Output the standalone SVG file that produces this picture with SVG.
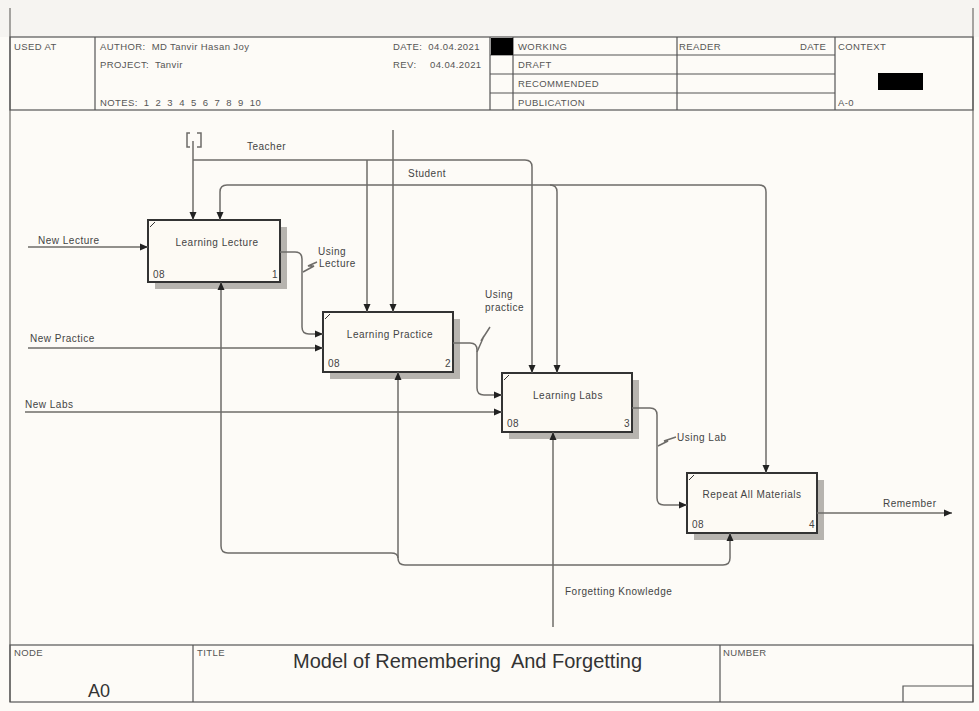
<svg xmlns="http://www.w3.org/2000/svg" width="979" height="711" viewBox="0 0 979 711">
<style>
.t{font-family:"Liberation Sans",Arial,sans-serif;font-size:9.5px;fill:#555;letter-spacing:0.4px;white-space:pre}
.d{font-family:"Liberation Sans",Arial,sans-serif;font-size:10px;fill:#444;letter-spacing:0.5px}
.frame{fill:none;stroke:#8a8884;stroke-width:1.5}
.cell{fill:none;stroke:#555;stroke-width:1.2}
.box{fill:#fdfaf4;stroke:#333;stroke-width:2}
.sh{fill:#b7b4af}
.c{fill:none;stroke:#6e6c69;stroke-width:1.5}
.ca{fill:none;stroke:#6e6c69;stroke-width:1.5;marker-end:url(#ah)}
</style>
<defs>
<marker id="ah" markerWidth="8" markerHeight="8" refX="8" refY="4" orient="auto" markerUnits="userSpaceOnUse">
<path d="M0,0.5 L8,4 L0,7.5 z" fill="#222"/>
</marker>
</defs>
<rect x="0" y="0" width="979" height="711" fill="#fdfbf7"/>
<rect x="0" y="0" width="979" height="37" fill="#f6f4f1"/>
<g id="frame">
<line class="frame" x1="10" y1="8" x2="10" y2="702"/>
<line class="frame" x1="973" y1="8" x2="973" y2="702"/>
</g>
<g id="header">
<rect class="cell" x="10" y="37" width="963" height="73"/>
<line class="cell" x1="95" y1="37" x2="95" y2="110"/>
<line class="cell" x1="490" y1="37" x2="490" y2="110"/>
<line class="cell" x1="513" y1="37" x2="513" y2="110"/>
<line class="cell" x1="677" y1="37" x2="677" y2="110"/>
<line class="cell" x1="835" y1="37" x2="835" y2="110"/>
<line class="cell" x1="490" y1="55" x2="835" y2="55"/>
<line class="cell" x1="490" y1="74" x2="835" y2="74"/>
<line class="cell" x1="490" y1="93" x2="835" y2="93"/>
<rect x="491" y="38" width="22" height="17" fill="#000"/>
<rect x="878" y="73" width="45" height="17" fill="#000"/>
<text class="t" x="14" y="50">USED AT</text>
<text class="t" x="100" y="50" xml:space="preserve">AUTHOR:  MD Tanvir Hasan Joy</text>
<text class="t" x="100" y="68" xml:space="preserve">PROJECT:  Tanvir</text>
<text class="t" x="100" y="106" xml:space="preserve">NOTES:  1  2  3  4  5  6  7  8  9  10</text>
<text class="t" x="393" y="50" xml:space="preserve">DATE:  04.04.2021</text>
<text class="t" x="393" y="68">REV:</text>
<text class="t" x="430" y="68">04.04.2021</text>
<text class="t" x="518" y="50">WORKING</text>
<text class="t" x="518" y="68">DRAFT</text>
<text class="t" x="518" y="87">RECOMMENDED</text>
<text class="t" x="518" y="106">PUBLICATION</text>
<text class="t" x="679" y="50">READER</text>
<text class="t" x="800" y="50">DATE</text>
<text class="t" x="838" y="50">CONTEXT</text>
<text class="t" x="838" y="106">A-0</text>
</g>
<g id="footer">
<rect class="cell" x="10" y="645" width="963" height="57"/>
<line class="cell" x1="193" y1="645" x2="193" y2="702"/>
<line class="cell" x1="720" y1="645" x2="720" y2="702"/>
<path class="cell" d="M903,702 V686 H973"/>
<text class="t" x="14" y="656">NODE</text>
<text class="t" x="197" y="656">TITLE</text>
<text class="t" x="723" y="656">NUMBER</text>
<text x="88" y="697" font-family="Liberation Sans,Arial,sans-serif" font-size="18" fill="#333">A0</text>
<text x="293" y="668" font-family="Liberation Sans,Arial,sans-serif" font-size="20" fill="#333" xml:space="preserve" style="white-space:pre">Model of Remembering  And Forgetting</text>
</g>
<g id="node1">
<rect class="sh" x="155" y="227" width="132" height="62"/>
<rect class="box" x="148" y="220" width="132" height="62"/>
<path d="M150,227 L155,222" stroke="#333" stroke-width="1"/>
<text class="d" x="217" y="246" text-anchor="middle">Learning Lecture</text>
<text class="d" x="153" y="278">08</text>
<text class="d" x="272" y="278">1</text>
</g>
<g id="node2">
<rect class="sh" x="330" y="319" width="130" height="60"/>
<rect class="box" x="323" y="312" width="130" height="60"/>
<path d="M325,319 L330,314" stroke="#333" stroke-width="1"/>
<text class="d" x="390" y="338" text-anchor="middle">Learning Practice</text>
<text class="d" x="328" y="367">08</text>
<text class="d" x="445" y="367">2</text>
</g>
<g id="node3">
<rect class="sh" x="509" y="380" width="130" height="59"/>
<rect class="box" x="502" y="373" width="130" height="59"/>
<path d="M504,380 L509,375" stroke="#333" stroke-width="1"/>
<text class="d" x="568" y="399" text-anchor="middle">Learning Labs</text>
<text class="d" x="507" y="427">08</text>
<text class="d" x="624" y="427">3</text>
</g>
<g id="node4">
<rect class="sh" x="694" y="480" width="130" height="60"/>
<rect class="box" x="687" y="473" width="130" height="60"/>
<path d="M689,480 L694,475" stroke="#333" stroke-width="1"/>
<text class="d" x="752" y="498" text-anchor="middle">Repeat All Materials</text>
<text class="d" x="692" y="528">08</text>
<text class="d" x="809" y="528">4</text>
</g>
<g id="connectors">
<path class="c" d="M190,133 H187 V147 H190 M197,133 H201 V147 H197" stroke-width="1.2"/>
<path class="ca" d="M193,141 V220"/>
<path class="ca" d="M193,160 H525 Q532,160 532,167 V373"/>
<path class="ca" d="M367,160 V312"/>
<path class="ca" d="M393,130 V312"/>
<path class="ca" d="M393,185 H227 Q220,185 220,192 V220"/>
<path class="ca" d="M393,185 H759 Q766,185 766,192 V473"/>
<path class="ca" d="M550,185 Q557,185 557,192 V373"/>
<path class="ca" d="M28,247 H148"/>
<path class="ca" d="M28,348 H323"/>
<path class="ca" d="M25,412 H502"/>
<path class="ca" d="M280,252 H295 Q302,252 302,259 V327 Q302,334 309,334 H323"/>
<path class="ca" d="M453,343 H470 Q477,343 477,350 V388 Q477,395 484,395 H502"/>
<path class="ca" d="M632,408 H650 Q657,408 657,415 V498 Q657,505 664,505 H687"/>
<path class="ca" d="M817,513 H952"/>
<path class="ca" d="M553,627 V432"/>
<path class="ca" d="M553,565 H405 Q398,565 398,558 V372"/>
<path class="ca" d="M398,558 Q398,553 391,553 H228 Q221,553 221,546 V282"/>
<path class="ca" d="M553,565 H723 Q730,565 730,558 V533"/>
<path class="c" d="M303,272 L314,266 L308,266 L317,262" stroke-width="1.2"/>
<path class="c" d="M477,352 L484,336 L481,341 L490,327" stroke-width="1.2"/>
<path class="c" d="M658,446 L668,441 L664,441 L676,437" stroke-width="1.2"/>
<text class="d" x="247" y="150">Teacher</text>
<text class="d" x="408" y="177">Student</text>
<text class="d" x="38" y="244">New Lecture</text>
<text class="d" x="30" y="342">New Practice</text>
<text class="d" x="25" y="408">New Labs</text>
<text class="d" x="318" y="255">Using</text>
<text class="d" x="319" y="267">Lecture</text>
<text class="d" x="485" y="298">Using</text>
<text class="d" x="485" y="311">practice</text>
<text class="d" x="677" y="441">Using Lab</text>
<text class="d" x="883" y="507">Remember</text>
<text class="d" x="565" y="595">Forgetting Knowledge</text>
</g>
</svg>
